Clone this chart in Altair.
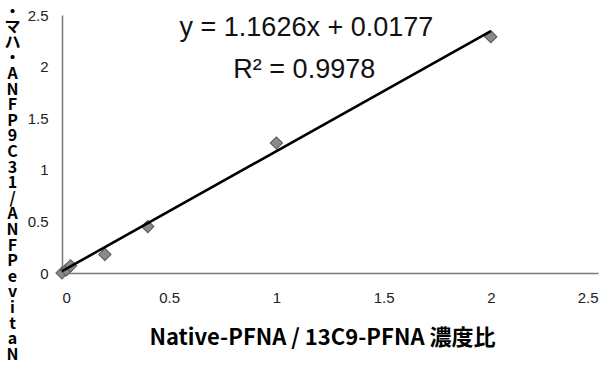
import altair as alt
import pandas as pd

# measured points
conc_ratio = [0.0, 0.02, 0.04, 0.2, 0.4, 1.0, 2.0]
area_ratio = [0.0, 0.03, 0.07, 0.18, 0.45, 1.26, 2.29]

# trendline end points (y = 1.1626x + 0.0177)
trend_x = [0.0, 2.0]
trend_y = [0.0177, 2.3429]

eq_text = ["y = 1.1626x + 0.0177", "R² = 0.9978"]
eq_x = [1.14, 1.13]
eq_y = [2.37, 1.97]

x_ticks = [0, 0.5, 1, 1.5, 2, 2.5]
y_ticks = [0, 0.5, 1, 1.5, 2, 2.5]

x_title = "Native-PFNA / 13C9-PFNA 濃度比"
y_title_chars = list("・マハ・ANFP9C31/ANFPevitaN")

pts = pd.DataFrame({"x": conc_ratio, "y": area_ratio})
trend = pd.DataFrame({"x": trend_x, "y": trend_y})
eq = pd.DataFrame({"x": eq_x, "y": eq_y, "t": eq_text})

xs = alt.Scale(domain=[0, 2.5], nice=False)
ys = alt.Scale(domain=[0, 2.5], nice=False)

xaxis = alt.Axis(values=x_ticks, format=".1~f", title=x_title, grid=False, ticks=False,
                 labelPadding=17, titlePadding=22, titleFont="Noto Sans CJK JP",
                 titleFontSize=22, titleFontWeight="bold", titleColor="#000",
                 titleAlign="center", titleX=260)
yaxis = alt.Axis(values=y_ticks, format=".1~f", title=y_title_chars, grid=False, ticks=False,
                 labelPadding=14, titleAngle=0, titleAlign="center", titleBaseline="top",
                 titleX=-50, titleY=-12, titleLineHeight=15.6, titleFont="Noto Sans CJK JP",
                 titleFontSize=16, titleFontWeight="bold", titleColor="#000")

points = alt.Chart(pts).mark_point(shape="square", angle=45, filled=True, size=75,
                                   color="#8a8a8a", stroke="#555", strokeWidth=1, opacity=1).encode(
    x=alt.X("x:Q", scale=xs, axis=xaxis),
    y=alt.Y("y:Q", scale=ys, axis=yaxis),
)

line = alt.Chart(trend).mark_line(color="#000", strokeWidth=2.6).encode(
    x=alt.X("x:Q", scale=xs),
    y=alt.Y("y:Q", scale=ys),
)

text = alt.Chart(eq).mark_text(font="Liberation Sans", fontSize=27, color="#111",
                               align="center", baseline="middle").encode(
    x=alt.X("x:Q", scale=xs),
    y=alt.Y("y:Q", scale=ys),
    text="t:N",
)

chart = alt.layer(points, line, text).properties(
    width=536, height=258,
    autosize=alt.AutoSizeParams(type="none"),
    padding={"left": 62, "top": 15, "right": 13, "bottom": 99},
).configure_view(stroke=None).configure_axis(
    domainColor="#7a7a7a", domainWidth=1.5,
    labelFont="Liberation Sans", labelFontSize=15, labelColor="#222",
)

chart.save("out.html", embed_options={"renderer": "svg", "actions": False})
